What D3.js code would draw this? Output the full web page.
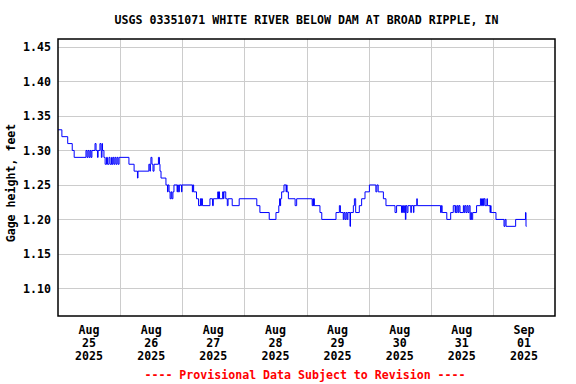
<!DOCTYPE html>
<html><head><meta charset="utf-8">
<script src="https://cdn.jsdelivr.net/npm/d3@7"></script>
<style>body{margin:0;background:#fff}svg{display:block}text{font-family:"DejaVu Sans Mono",monospace;font-weight:bold}</style>
</head><body><svg id="c" width="576" height="384"></svg>
<script>
const title = "USGS 03351071 WHITE RIVER BELOW DAM AT BROAD RIPPLE, IN";
const yLabel = "Gage height, feet";
const footer = "---- Provisional Data Subject to Revision ----";
const startDate = new Date(2025, 7, 25, 0, 0);
const endDate = new Date(2025, 8, 2, 0, 0);
const yTicks = [1.10, 1.15, 1.20, 1.25, 1.30, 1.35, 1.40, 1.45];
const dayLabels = [["Aug","25","2025"],["Aug","26","2025"],["Aug","27","2025"],["Aug","28","2025"],["Aug","29","2025"],["Aug","30","2025"],["Aug","31","2025"],["Sep","01","2025"]];
// hours since Aug 25 00:00 where the gage height changes (step series)
const hours = [0,1.5,3.75,5.5,6.25,10.8,11.2,11.6,12.0,12.4,12.75,13.1,14.3,14.7,15.25,15.5,16.2,16.6,16.75,17.0,17.2,17.75,18.2,18.75,19.1,19.7,20.1,20.7,20.9,21.25,21.6,22.0,22.4,22.8,23.2,23.6,27.4,29.4,30.7,30.9,35.1,35.5,35.7,35.9,36.3,36.7,37.1,38.8,39.2,39.4,39.8,41.7,42.3,42.5,42.9,43.3,43.7,44.0,44.4,44.8,46.0,46.2,46.5,46.9,
47.7,47.9,51.9,52.1,52.4,53.5,54.3,55.0,55.2,55.4,55.8,58.7,59.7,60.0,61.7,62.0,62.2,62.4,63.6,63.9,64.1,64.8,65.4,65.7,67.3,70.0,76.8,78.0,81.6,84.2,85.3,85.6,85.8,86.0,86.4,87.3,88.1,88.3,88.5,89.0,91.6,92.2,
98.2,98.5,98.7,98.9,99.0,101.2,101.9,107.4,108.7,109.1,110.2,110.5,110.9,111.3,111.7,112.0,112.8,113.0,114.1,114.5,115.0,116.4,117.3,118.6,120.3,122.8,123.2,123.7,125.7,126.7,130.2,130.8,132.7,133.1,133.5,133.9,134.2,134.4,134.8,135.2,136.3,136.5,137.3,137.5,138.6,138.8,
147.8,148.1,148.4,150.2,151.7,152.7,153.4,153.6,153.8,154.2,154.6,154.9,155.3,156.6,156.9,157.2,157.6,158.0,158.4,158.8,159.2,159.5,159.7,160.2,161.7,163.2,163.6,164.0,164.4,164.6,165.0,165.7,165.9,166.9,167.1,167.3,169.2,172.3,172.7,173.1,176.8,180.6,180.8,181.0];
const values = [1.33,1.32,1.31,1.30,1.29,1.30,1.29,1.30,1.29,1.30,1.29,1.30,1.31,1.30,1.29,1.30,1.31,1.30,1.29,1.31,1.30,1.29,1.28,1.29,1.28,1.29,1.28,1.29,1.28,1.29,1.28,1.29,1.28,1.29,1.28,1.29,1.28,1.27,1.26,1.27,1.28,1.27,1.28,1.29,1.28,1.27,1.28,1.29,1.28,1.27,1.26,1.25,1.24,1.25,1.24,1.23,1.24,1.23,1.24,1.25,1.24,1.25,1.24,1.25,
1.24,1.25,1.24,1.25,1.24,1.23,1.22,1.23,1.22,1.23,1.22,1.23,1.22,1.23,1.24,1.23,1.24,1.23,1.24,1.23,1.24,1.23,1.22,1.23,1.22,1.23,1.22,1.21,1.20,1.21,1.22,1.23,1.22,1.23,1.24,1.25,1.24,1.25,1.24,1.23,1.22,1.23,
1.22,1.23,1.22,1.23,1.22,1.21,1.20,1.21,1.22,1.21,1.20,1.21,1.20,1.21,1.20,1.21,1.19,1.21,1.22,1.23,1.21,1.22,1.23,1.24,1.25,1.24,1.25,1.24,1.23,1.22,1.21,1.22,1.21,1.22,1.21,1.22,1.20,1.22,1.21,1.22,1.21,1.22,1.21,1.22,1.23,1.22,
1.21,1.22,1.21,1.20,1.21,1.22,1.21,1.22,1.21,1.22,1.21,1.22,1.21,1.22,1.21,1.22,1.21,1.22,1.21,1.22,1.20,1.21,1.20,1.21,1.22,1.23,1.22,1.23,1.22,1.23,1.22,1.23,1.22,1.21,1.22,1.21,1.20,1.19,1.20,1.19,1.20,1.21,1.19,1.19];

const svg = d3.select("#c");
const m = {l:58, r:555, t:39, b:316};
const x = d3.scaleTime().domain([startDate, endDate]).range([m.l, m.r]);
const y = d3.scaleLinear().domain([1.06, 1.4616]).range([m.b, m.t]);
const data = hours.map((h,i)=>({t:new Date(startDate.getTime()+h*3600e3), v:values[i]}));

// grid
svg.append("g").selectAll("line").data(yTicks).join("line")
  .attr("x1", m.l).attr("x2", m.r)
  .attr("y1", d=>Math.round(y(d))+0.5).attr("y2", d=>Math.round(y(d))+0.5)
  .attr("stroke", "#cccccc").attr("stroke-width", 1);
const days = d3.timeDay.range(d3.timeDay.offset(startDate,1), endDate);
svg.append("g").selectAll("line").data(days).join("line")
  .attr("x1", d=>Math.round(x(d))+0.5).attr("x2", d=>Math.round(x(d))+0.5)
  .attr("y1", m.t).attr("y2", m.b)
  .attr("stroke", "#cccccc").attr("stroke-width", 1);

// data line
svg.append("path").datum(data)
  .attr("d", d3.line().x(d=>x(d.t)).y(d=>y(d.v)).curve(d3.curveStepAfter))
  .attr("fill", "none").attr("stroke", "#0000ff").attr("stroke-width", 1);

// frame
svg.append("rect").attr("x", m.l).attr("y", m.t).attr("width", m.r-m.l).attr("height", m.b-m.t)
  .attr("fill", "none").attr("stroke", "#000").attr("stroke-width", 1.5);

// y tick labels
svg.append("g").selectAll("text").data(yTicks).join("text")
  .attr("x", 51).attr("y", d=>y(d)).attr("dy", "0.36em")
  .attr("text-anchor", "end").attr("font-size", "11.6px").text(d=>d.toFixed(2));

// x labels at noon
const noons = d3.timeDay.range(startDate, endDate).map(d=>d3.timeHour.offset(d,12));
const xl = svg.append("g").selectAll("g").data(noons).join("g");
[334, 347, 359.5].forEach((yy,k)=>{
  xl.append("text").attr("x", d=>x(d)).attr("y", yy).attr("text-anchor","middle")
    .attr("font-size","11.6px").text((d,i)=>dayLabels[i][k]);
});

svg.append("text").attr("x", (m.l+m.r)/2).attr("y", 24).attr("text-anchor","middle")
  .attr("font-size","11.6px").text(title);
svg.append("text").attr("transform","translate(15,183) rotate(-90)").attr("text-anchor","middle")
  .attr("font-size","11.6px").text(yLabel);
svg.append("text").attr("x", (m.l+m.r)/2 - 1.5).attr("y", 379).attr("text-anchor","middle")
  .attr("font-size","11.6px").attr("fill","#ff0000").text(footer);
</script></body></html>
